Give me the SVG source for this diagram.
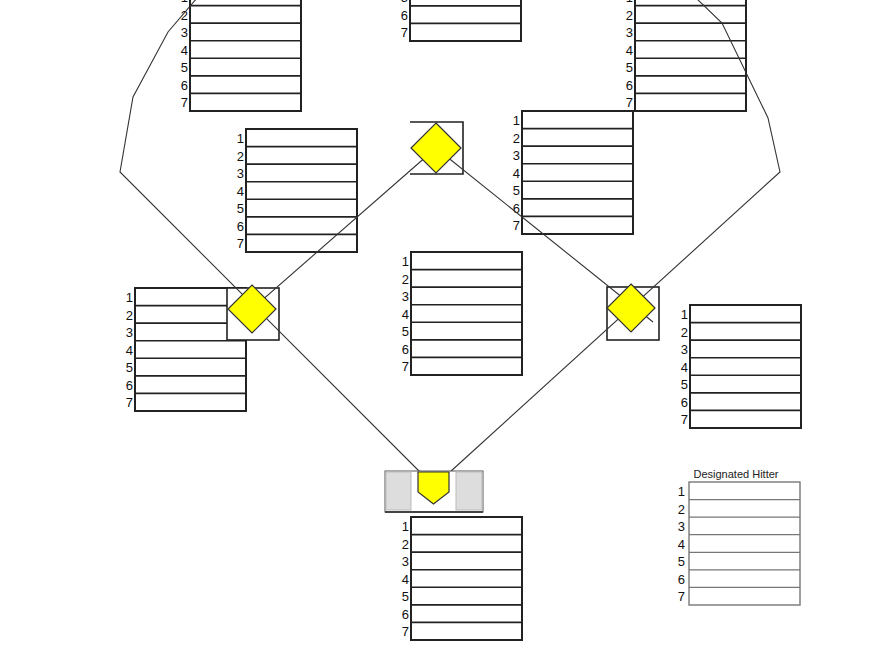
<svg xmlns="http://www.w3.org/2000/svg" xmlns:xlink="http://www.w3.org/1999/xlink" width="880" height="660" viewBox="0 0 880 660">
<style>
.t{fill:#fff;stroke:#222;stroke-width:2}
.r{stroke:#222;stroke-width:1.6}
.n{font-family:"Liberation Sans",Arial,sans-serif;font-size:13px;fill:#111;text-anchor:end}
.ln{fill:none;stroke:#333;stroke-width:1.1}
.base{fill:#ffff00;stroke:#333;stroke-width:1.2}
.box{fill:#fff;stroke:#222;stroke-width:1.6}
</style>
<defs>
<g id="tbl">
<rect class="t" x="0" y="0" width="111" height="123"/>
<path class="r" d="M0 17.6H111M0 35.1H111M0 52.7H111M0 70.3H111M0 87.9H111M0 105.4H111"/>
<g class="n"><text x="-2" y="14">1</text><text x="-2" y="31.5">2</text><text x="-2" y="49">3</text><text x="-2" y="66.5">4</text><text x="-2" y="84">5</text><text x="-2" y="101.5">6</text><text x="-2" y="119">7</text></g>
</g>
</defs>
<rect width="880" height="660" fill="#fff"/>
<g id="lf"><use xlink:href="#tbl" x="190" y="-12"/></g>
<g id="cf"><use xlink:href="#tbl" x="410" y="-82"/></g>
<g id="rf"><use xlink:href="#tbl" x="635" y="-12"/></g>
<g id="ss"><use xlink:href="#tbl" x="246" y="129"/></g>
<g id="second-table"><use xlink:href="#tbl" x="522" y="111"/></g>
<g id="pitcher"><use xlink:href="#tbl" x="411" y="252"/></g>
<g id="third-table"><use xlink:href="#tbl" x="135" y="288"/></g>
<g id="first-table"><use xlink:href="#tbl" x="690" y="305"/></g>
<g id="catcher"><use xlink:href="#tbl" x="411" y="517"/></g>
<g id="dh">
<text x="736" y="478" font-family="Liberation Sans,Arial,sans-serif" font-size="11" text-anchor="middle" fill="#222">Designated Hitter</text>
<rect x="689" y="482" width="111" height="123" fill="#fff" stroke="#777" stroke-width="1.4"/>
<path stroke="#777" stroke-width="1.2" d="M689 499.6H800M689 517.1H800M689 534.7H800M689 552.3H800M689 569.9H800M689 587.4H800"/>
<g class="n"><text x="685" y="496">1</text><text x="685" y="513.5">2</text><text x="685" y="531">3</text><text x="685" y="548.5">4</text><text x="685" y="566">5</text><text x="685" y="583.5">6</text><text x="685" y="601">7</text></g>
</g>
<g id="third-box"><rect class="box" x="227" y="288" width="52" height="52"/></g>
<g id="first-box"><rect class="box" x="607" y="287" width="52" height="53"/></g>
<g id="second-box"><path class="box" fill="none" d="M410 122H463V174H410"/></g>
<g id="connectors">
<polyline class="ln" points="420,472 120,172 133,97 168,32 197,-2"/>
<polyline class="ln" points="450,472 780,172 768,118 722,23 696,-2"/>
<line class="ln" x1="252" y1="309" x2="436" y2="148"/>
<line class="ln" x1="436" y1="148" x2="653" y2="322"/>
</g>
<g id="second-base"><polygon class="base" points="436,123 461,148 436,173 411,148"/></g>
<g id="third-base"><polygon class="base" points="252,285 276,309 252,333 228,309"/></g>
<g id="first-base"><polygon class="base" points="631,284 655,308 631,332 607,308"/></g>
<g id="home">
<rect x="385" y="471" width="98" height="41" fill="#fff" stroke="#555" stroke-width="1"/>
<rect x="386" y="472" width="25" height="38" fill="#ddd" stroke="#bbb"/>
<rect x="456" y="472" width="26" height="38" fill="#ddd" stroke="#bbb"/>
<line x1="385" y1="512" x2="483" y2="512" stroke="#444" stroke-width="2"/>
<polygon class="base" points="418,472 449,472 449,492 433.5,504 418,492"/>
</g>
</svg>
